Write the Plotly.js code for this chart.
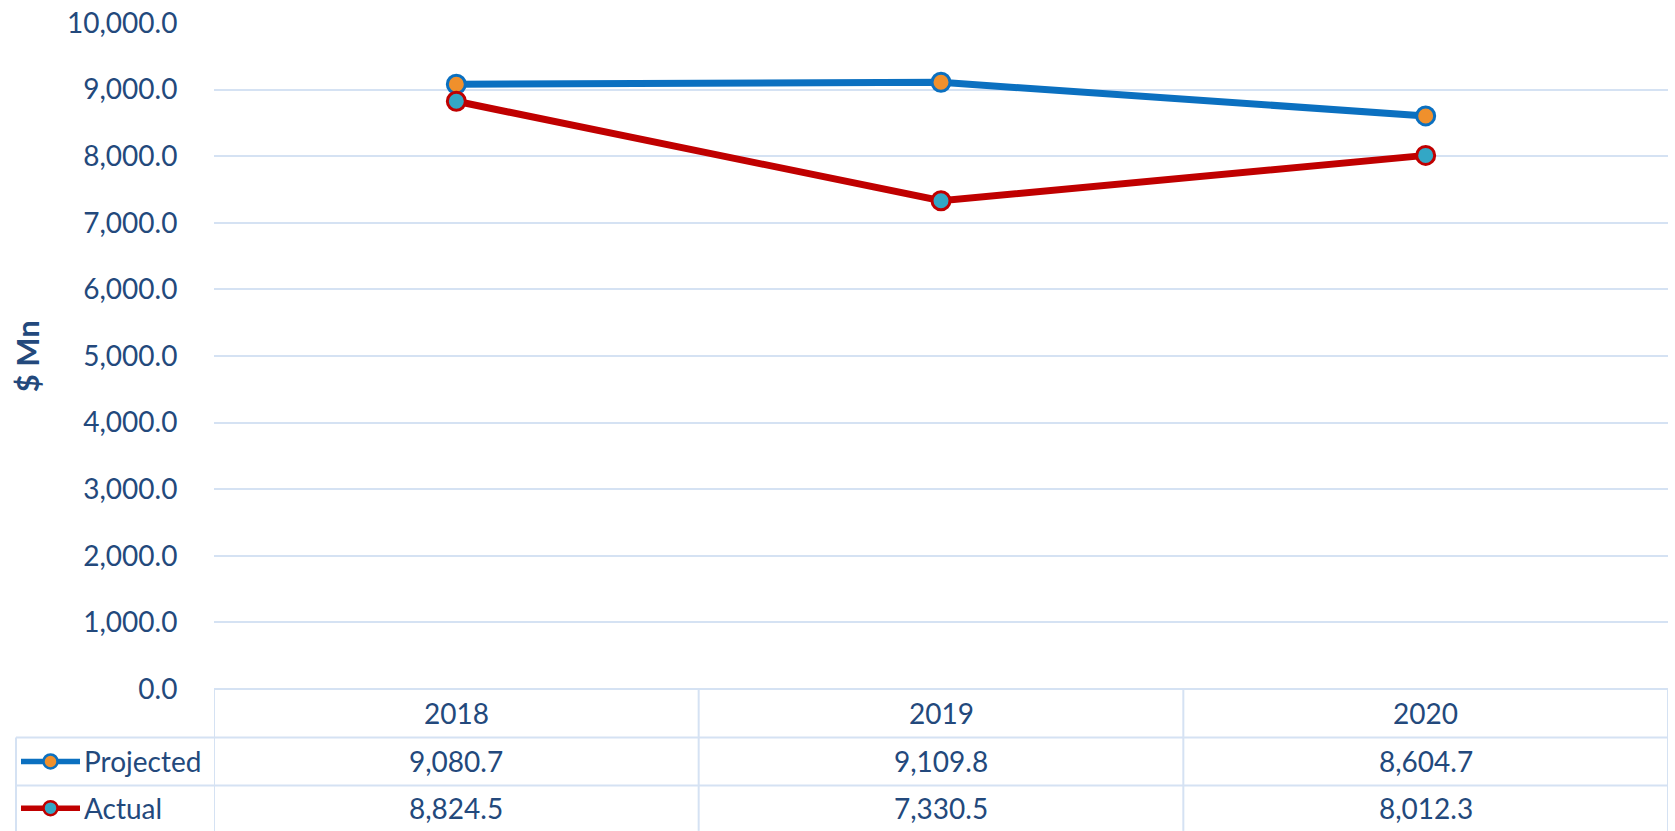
<!DOCTYPE html>
<html>
<head>
<meta charset="utf-8">
<script src="https://cdn.plot.ly/plotly-3.0.1.min.js"></script>
<style>html,body{margin:0;padding:0;background:#fff;}#chart{width:1675px;height:831px;}</style>
</head>
<body>
<div id="chart"></div>
<script>
const categories = ['2018', '2019', '2020'];
const projected = [9080.7, 9109.8, 8604.7];
const actual = [8824.5, 7330.5, 8012.3];
const seriesNames = ['Projected', 'Actual'];
const yTicks = [0, 1000, 2000, 3000, 4000, 5000, 6000, 7000, 8000, 9000, 10000];

const W = 1675, H = 831;
const L = 214, R = 1668, T = 22.5, B = 689;
const pw = R - L, ph = B - T;
const px2x = p => (p - L) / pw;
const py2y = p => (B - p) / ph;

const txt = '#23497C';
const grid = '#D5E2F3';
const font = 'Lato, Open Sans, Liberation Sans, sans-serif';

const series = [
  {name: seriesNames[0], y: projected, line: '#0B70C0', fill: '#F0902C'},
  {name: seriesNames[1], y: actual, line: '#C00000', fill: '#33A7C5'}
];

const traces = series.map(s => ({
  type: 'scatter', mode: 'lines+markers', name: s.name,
  x: categories, y: s.y,
  line: {color: s.line, width: 7},
  marker: {size: 18, color: s.fill, line: {color: s.line, width: 3}},
  hoverinfo: 'x+y+name'
}));

const n = categories.length;
const rowBounds = [689, 737.5, 785.5, 831].map(py2y);
const leftEdge = px2x(16);
const shapes = [];
shapes.push({type: 'line', xref: 'x', yref: 'paper', x0: -0.5, x1: n - 0.5, y0: rowBounds[0], y1: rowBounds[0], line: {color: grid, width: 2}});
for (let r = 1; r < 3; r++) {
  shapes.push({type: 'line', xref: 'paper', yref: 'paper', x0: leftEdge, x1: 1, y0: rowBounds[r], y1: rowBounds[r], line: {color: grid, width: 2}});
}
for (let i = 0; i <= n; i++) {
  shapes.push({type: 'line', xref: 'x', yref: 'paper', x0: i - 0.5, x1: i - 0.5, y0: rowBounds[0], y1: rowBounds[3], line: {color: grid, width: 2}});
}
shapes.push({type: 'line', xref: 'paper', yref: 'paper', x0: leftEdge, x1: leftEdge, y0: rowBounds[1], y1: rowBounds[3], line: {color: grid, width: 2}});

const fmt = v => v.toLocaleString('en-US', {minimumFractionDigits: 1, maximumFractionDigits: 1});
const annotations = [];
const rowCenter = r => (rowBounds[r] + rowBounds[r + 1]) / 2;
const tFont = {family: font, size: 28, color: txt};
categories.forEach((c, i) => {
  const xp = (i + 0.5) / n;
  annotations.push({xref: 'paper', yref: 'paper', x: xp, y: rowCenter(0), text: c, showarrow: false,
    font: tFont, xanchor: 'center', yanchor: 'middle'});
  series.forEach((s, k) => {
    annotations.push({xref: 'paper', yref: 'paper', x: xp, y: rowCenter(k + 1), text: fmt(s.y[i]), showarrow: false,
      font: tFont, xanchor: 'center', yanchor: 'middle'});
  });
});
series.forEach((s, k) => {
  const yc = rowCenter(k + 1);
  const ycPx = B - yc * ph;
  shapes.push({type: 'line', xref: 'paper', yref: 'paper', x0: px2x(21), x1: px2x(80), y0: yc, y1: yc, line: {color: s.line, width: 5.5}});
  shapes.push({type: 'circle', xref: 'paper', yref: 'paper', x0: px2x(43.5), x1: px2x(57.5), y0: py2y(ycPx + 7), y1: py2y(ycPx - 7), fillcolor: s.fill, line: {color: s.line, width: 2.5}});
  annotations.push({xref: 'paper', yref: 'paper', x: px2x(82), y: yc, text: s.name, showarrow: false,
    font: tFont, xanchor: 'left', yanchor: 'middle'});
});
annotations.push({xref: 'paper', yref: 'paper', x: px2x(27), y: py2y(356), text: '<b>$ Mn</b>', textangle: -90, showarrow: false,
  font: {family: font, size: 31, color: txt}, xanchor: 'center', yanchor: 'middle'});

const layout = {
  width: W, height: H,
  margin: {l: L, r: W - R, t: T, b: H - B, pad: 0},
  paper_bgcolor: '#fff', plot_bgcolor: '#fff',
  showlegend: false,
  xaxis: {type: 'category', range: [-0.5, n - 0.5], showgrid: false, zeroline: false, showline: false, showticklabels: false, ticks: ''},
  yaxis: {range: [0, 10000], tickvals: yTicks, tickformat: ',.1f', showgrid: true, gridcolor: grid, gridwidth: 2,
    zeroline: false, showline: false, ticks: 'outside', ticklen: 0, ticklabelstandoff: 30,
    tickfont: {family: font, size: 28, color: txt}},
  shapes: shapes,
  annotations: annotations
};

Plotly.newPlot('chart', traces, layout, {displayModeBar: false, staticPlot: true});
</script>
</body>
</html>
